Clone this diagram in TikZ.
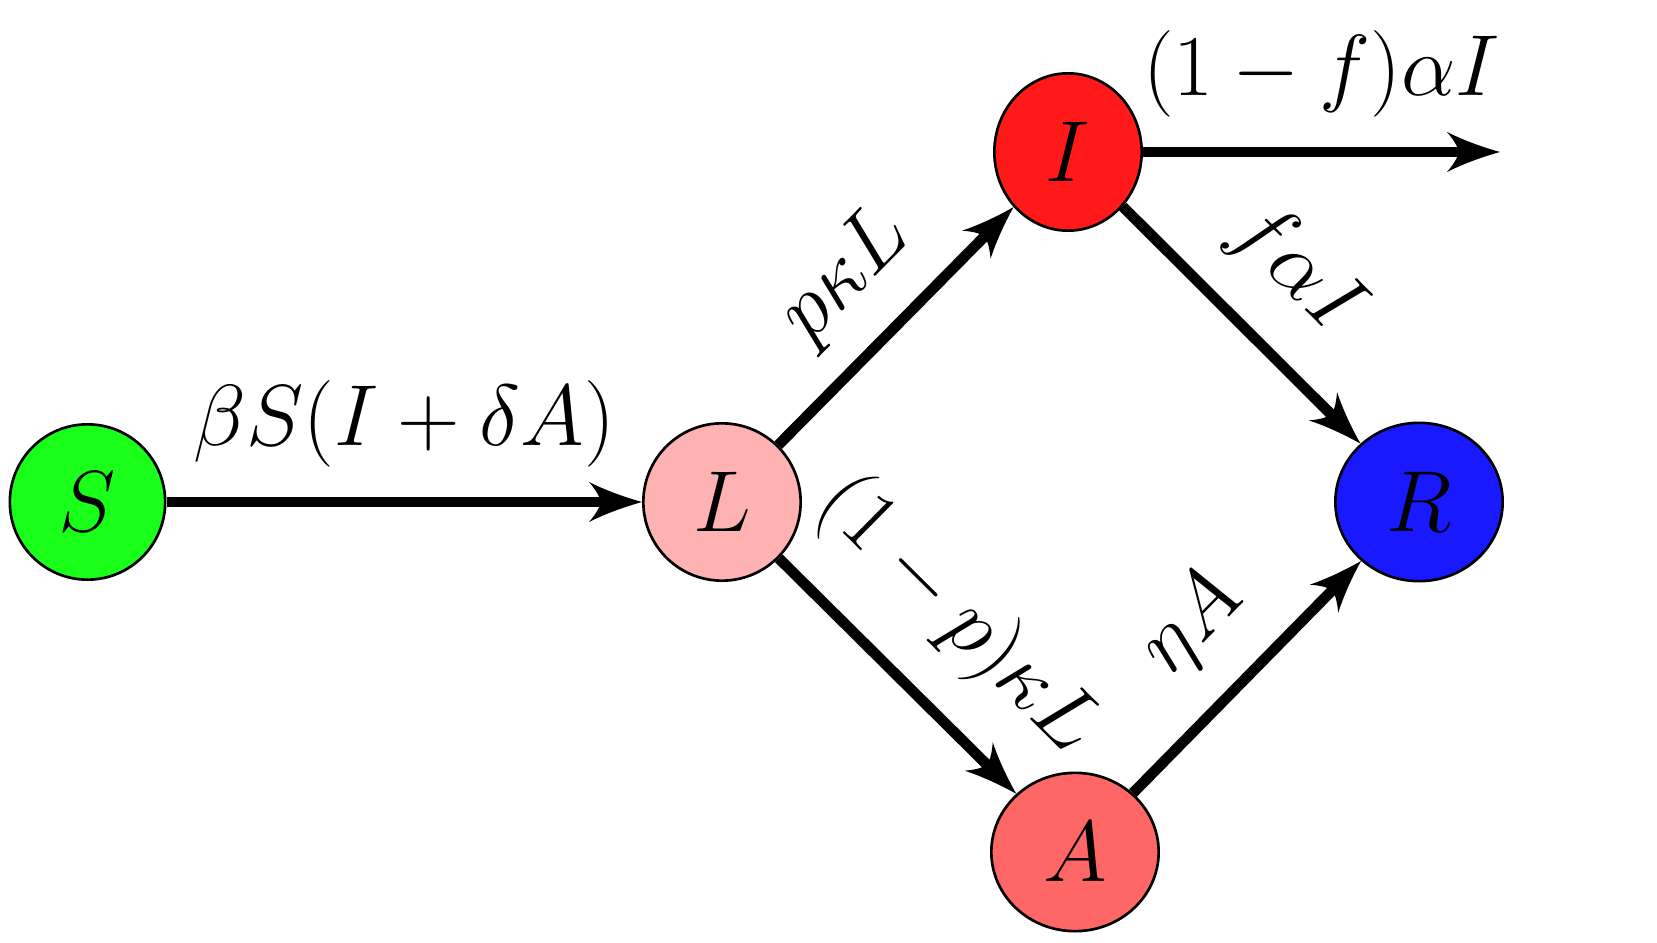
\documentclass[tikz,border=0pt]{standalone}
\usepackage{fix-cm}
\usetikzlibrary{arrows.meta,shapes.geometric}
\newcommand{\bigfont}{\fontsize{26}{31}\selectfont}
\pgfdeclarearrow{
  name = CurvyStealth,
  parameters = {\the\pgfarrowlength,\the\pgfarrowwidth},
  setup code = {
    \pgfarrowssettipend{\pgfarrowlength}
    \pgfarrowssetlineend{0.35\pgfarrowlength}
    \pgfarrowssavethe\pgfarrowlength
    \pgfarrowssavethe\pgfarrowwidth
  },
  drawing code = {
    \pgfpathmoveto{\pgfqpoint{\pgfarrowlength}{0pt}}
    \pgfpathcurveto{\pgfqpoint{0.66\pgfarrowlength}{0.125\pgfarrowwidth}}{\pgfqpoint{0.3\pgfarrowlength}{0.3\pgfarrowwidth}}{\pgfqpoint{0pt}{0.5\pgfarrowwidth}}
    \pgfpathcurveto{\pgfqpoint{0.08\pgfarrowlength}{0.375\pgfarrowwidth}}{\pgfqpoint{0.2\pgfarrowlength}{0.175\pgfarrowwidth}}{\pgfqpoint{0.22\pgfarrowlength}{0pt}}
    \pgfpathcurveto{\pgfqpoint{0.2\pgfarrowlength}{-0.175\pgfarrowwidth}}{\pgfqpoint{0.08\pgfarrowlength}{-0.375\pgfarrowwidth}}{\pgfqpoint{0pt}{-0.5\pgfarrowwidth}}
    \pgfpathcurveto{\pgfqpoint{0.3\pgfarrowlength}{-0.3\pgfarrowwidth}}{\pgfqpoint{0.66\pgfarrowlength}{-0.125\pgfarrowwidth}}{\pgfqpoint{\pgfarrowlength}{0pt}}
    \pgfpathclose
    \pgfusepathqfill
  },
  defaults = {length = 15.9pt, width = 12pt}
}
\tikzset{
  comp/.style={ellipse, draw=black, line width=0.8pt, inner sep=0pt, font=\bigfont},
  flow/.style={line width=3.2pt, -{CurvyStealth}},
  lbl/.style={inner sep=0pt, font=\bigfont},
}
\begin{document}
\begin{tikzpicture}[x=0.3pt,y=0.3pt]
\useasboundingbox (0,0) rectangle (1657,942);
\node[comp, fill=green!90!white, minimum width=46.6pt, minimum height=46.6pt] (S) at (87.5,440) {$S$};
\node[comp, fill=red!30!white, minimum width=47.2pt, minimum height=47.2pt] (L) at (722,440) {$L$};
\node[comp, fill=red!90!white, minimum width=44.2pt, minimum height=47.2pt] (I) at (1068,790) {$I$};
\node[comp, fill=blue!90!white, minimum width=50.2pt, minimum height=47.5pt] (R) at (1419,440) {$R$};
\node[comp, fill=red!60!white, minimum width=50.2pt, minimum height=47.5pt] (A) at (1075,90) {$A$};
\coordinate (out) at (1500,790);
\draw[flow] (S) -- node[lbl, above=8.8pt] {$\beta S(I+\delta A)$} (L);
\draw[flow] (L) -- node[lbl, sloped, above=8.1pt] {$p\kappa L$} (I);
\draw[flow] (I) -- node[lbl, sloped, above=10pt] {$f\alpha I$} (R);
\draw[flow] (L) -- node[lbl, sloped, above=10.8pt] {$(1-p)\kappa L$} (A);
\draw[flow] (A) -- node[lbl, sloped, above=9.9pt] {$\eta A$} (R);
\draw[flow] (I) -- node[lbl, above=8.8pt] {$(1-f)\alpha I$} (out);
\end{tikzpicture}
\end{document}
